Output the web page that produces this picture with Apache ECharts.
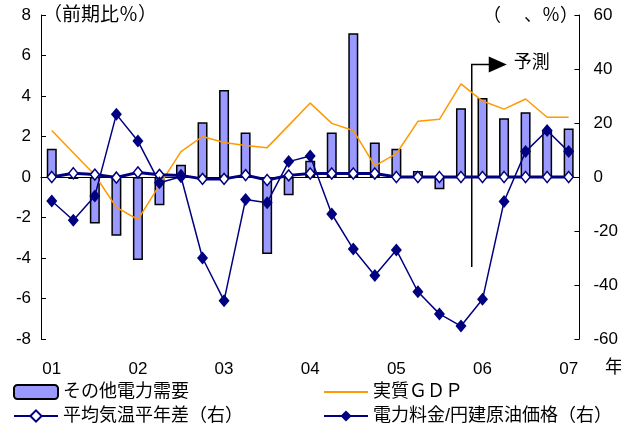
<!DOCTYPE html>
<html>
<head>
<meta charset="utf-8">
<script src="https://cdn.jsdelivr.net/npm/echarts@6/dist/echarts.min.js"></script>
<style>
  html, body { margin: 0; padding: 0; background: #fff; }
  #chart { width: 621px; height: 427px; }
</style>
</head>
<body>
<div id="chart"></div>
<script>
// quarterly, 2001 Q1 .. 2007 Q1
const quarters = [
  '01Q1', '01Q2', '01Q3', '01Q4',
  '02Q1', '02Q2', '02Q3', '02Q4',
  '03Q1', '03Q2', '03Q3', '03Q4',
  '04Q1', '04Q2', '04Q3', '04Q4',
  '05Q1', '05Q2', '05Q3', '05Q4',
  '06Q1', '06Q2', '06Q3', '06Q4',
  '07Q1'
]
const yearLabels = ['01', '02', '03', '04', '05', '06', '07']

// left axis (前期比%)
const otherDemand = [1.4, -0.1, -2.3, -2.9, -4.1, -1.4, 0.6, 2.7, 4.3, 2.2, -3.8, -0.9, 0.8, 2.2, 7.1, 1.7, 1.4, 0.3, -0.6, 3.4, 3.9, 2.9, 3.2, 2.3, 2.4]
const realGdp = [2.3, 1.2, 0.1, -1.5, -2.1, -0.4, 1.25, 2.0, 1.7, 1.55, 1.45, 2.55, 3.65, 2.65, 2.3, 0.55, 1.15, 2.75, 2.85, 4.6, 3.75, 3.35, 3.85, 2.95, 2.95]
// right axis
const tempDiff = [0, 1.4, 0.9, -0.2, 1.7, 0.8, 0.6, -0.7, -0.7, 0.7, -1.1, 0.6, 1.3, 1.3, 1.3, 1.3, 0, 0, 0, 0, 0, 0, 0, 0, 0]
const priceOil = [-8.9, -16, -7, 23.2, 13.3, -2.1, 0.1, -30, -45.8, -8.3, -9.5, 5.7, 7.8, -13.7, -26.7, -36.5, -27, -42.5, -50.7, -55.2, -45.3, -9.1, 9.4, 17.2, 9.4]

const FONT = 'Liberation Sans, Noto Sans CJK JP, sans-serif'
const NAVY = '#000080'

const chart = echarts.init(document.getElementById('chart'))

const legendBase = {
  itemWidth: 44,
  itemHeight: 14,
  textStyle: { fontFamily: FONT, fontSize: 18, color: '#000' }
}

chart.setOption({
  animation: false,
  grid: { left: 41, right: 39, top: 15, bottom: 88 },
  legend: [
    { ...legendBase, left: 8, top: 378, data: ['その他電力需要'] },
    { ...legendBase, left: 318, top: 378, data: [{ name: '実質ＧＤＰ', itemStyle: { opacity: 0 } }] },
    { ...legendBase, left: 8, top: 402, data: ['平均気温平年差（右）'] },
    { ...legendBase, left: 318, top: 402, data: ['電力料金/円建原油価格（右）'] }
  ],
  xAxis: [
    {
      type: 'category',
      data: quarters,
      axisLine: { onZero: true, lineStyle: { color: '#000', width: 1 } },
      axisTick: { inside: true, interval: 1, length: 5, lineStyle: { color: '#000' } },
      axisLabel: { show: false }
    },
    {
      type: 'category',
      data: quarters,
      position: 'bottom',
      axisLine: { show: false, onZero: false },
      axisTick: { show: false },
      axisLabel: {
        interval: 3,
        margin: 22,
        color: '#000',
        fontFamily: FONT,
        fontSize: 17,
        formatter: (v, i) => yearLabels[i / 4]
      }
    }
  ],
  yAxis: [
    {
      type: 'value',
      min: -8, max: 8, interval: 2,
      axisLine: { show: true, lineStyle: { color: '#000' } },
      axisTick: { show: true, inside: true, length: 5, lineStyle: { color: '#000' } },
      splitLine: { show: false },
      axisLabel: { color: '#000', fontFamily: FONT, fontSize: 17, margin: 10 }
    },
    {
      type: 'value',
      min: -60, max: 60, interval: 20,
      position: 'right',
      axisLine: { show: true, lineStyle: { color: '#000' } },
      axisTick: { show: true, inside: true, length: 5, lineStyle: { color: '#000' } },
      splitLine: { show: false },
      axisLabel: { color: '#000', fontFamily: FONT, fontSize: 17, margin: 14 }
    }
  ],
  series: [
    {
      name: 'その他電力需要',
      type: 'bar',
      data: otherDemand,
      barWidth: 10,
      itemStyle: { color: '#9999ff', borderColor: '#000', borderWidth: 1.5 }
    },
    {
      name: '実質ＧＤＰ',
      type: 'line',
      data: realGdp,
      symbol: 'none',
      lineStyle: { color: '#ff9900', width: 1.5 },
      itemStyle: { color: '#ff9900' }
    },
    {
      name: '平均気温平年差（右）',
      type: 'line',
      yAxisIndex: 1,
      data: tempDiff,
      symbol: 'diamond',
      symbolSize: [9, 11],
      lineStyle: { color: NAVY, width: 3 },
      itemStyle: { color: '#fff', borderColor: NAVY, borderWidth: 1.5 }
    },
    {
      name: '電力料金/円建原油価格（右）',
      type: 'line',
      yAxisIndex: 1,
      data: priceOil,
      symbol: 'diamond',
      symbolSize: [11, 13],
      lineStyle: { color: NAVY, width: 1.5 },
      itemStyle: { color: NAVY }
    }
  ]
})

// annotations: units, year mark and the 予測 arrow
const xa = chart.convertToPixel({ xAxisIndex: 0 }, quarters[19])
const xb = chart.convertToPixel({ xAxisIndex: 0 }, quarters[20])
const fx = (xa + xb) / 2
const fyTop = chart.convertToPixel({ yAxisIndex: 0 }, 5.55)
const fyBot = chart.convertToPixel({ yAxisIndex: 0 }, -4.45)

chart.setOption({
  graphic: [
    { type: 'text', left: 43, top: 6, style: { text: '（前期比％）', font: '19px ' + FONT, fill: '#000' } },
    { type: 'text', right: 43, top: 7, style: { text: '（　 、％）', font: '18px ' + FONT, fill: '#000' } },
    { type: 'text', left: 605, top: 359, style: { text: '年', font: '18px ' + FONT, fill: '#000' } },
    {
      type: 'polyline',
      shape: { points: [[fx, fyBot], [fx, fyTop], [fx + 18, fyTop]] },
      style: { stroke: '#000', lineWidth: 1.5, fill: null }
    },
    {
      type: 'polygon',
      shape: { points: [[fx + 17, fyTop - 8], [fx + 35, fyTop], [fx + 17, fyTop + 8]] },
      style: { fill: '#000' }
    },
    { type: 'text', x: fx + 42, y: fyTop - 11, style: { text: '予測', font: '18px ' + FONT, fill: '#000' } }
  ]
})
</script>
</body>
</html>
